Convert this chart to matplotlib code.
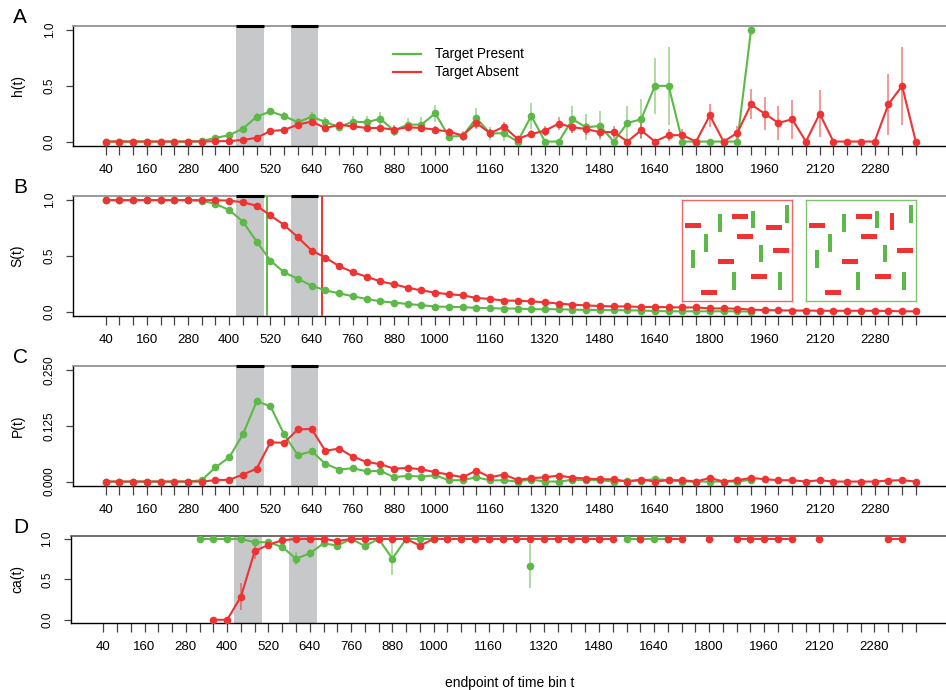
import numpy as np
import matplotlib
matplotlib.use("Agg")
import matplotlib.pyplot as plt
from matplotlib.patches import Rectangle
from matplotlib.lines import Line2D
import matplotlib.transforms as mtransforms

plt.rcParams['font.family'] = ['Liberation Sans', 'DejaVu Sans']

nan = np.nan
t = np.arange(40, 2401, 40)

# ---------------- data ----------------
h_present = [0, 0, 0, 0, 0, 0, 0, 0.005,
             0.033, 0.057, 0.116, 0.223, 0.27, 0.229, 0.173, 0.223, 0.176, 0.131,
             0.179, 0.173, 0.205, 0.098, 0.152, 0.152, 0.253, 0.045, 0.05, 0.211,
             0.074, 0.074, 0.0, 0.229, 0.0, 0.0, 0.2, 0.128, 0.14, 0.0,
             0.167, 0.2, 0.5, 0.5, 0.0, 0.0, 0.0, 0.0, 0.0, 1.0,
             nan, nan, nan, nan, nan, nan, nan, nan, nan, nan, nan, nan]
h_present_se = [0, 0, 0, 0, 0, 0, 0, 0.004,
                0.012, 0.016, 0.022, 0.03, 0.035, 0.036, 0.035, 0.042, 0.042, 0.04,
                0.05, 0.053, 0.06, 0.05, 0.06, 0.065, 0.075, 0.04, 0.045, 0.09,
                0.06, 0.065, 0, 0.12, 0, 0, 0.12, 0.115, 0.13, 0,
                0.15, 0.18, 0.25, 0.35, 0, 0, 0, 0, 0, 0,
                nan, nan, nan, nan, nan, nan, nan, nan, nan, nan, nan, nan]
h_absent = [0, 0, 0, 0, 0, 0, 0, 0,
            0.003, 0.004, 0.015, 0.033, 0.095, 0.104, 0.152, 0.179, 0.122, 0.149,
            0.137, 0.122, 0.122, 0.107, 0.128, 0.122, 0.107, 0.089, 0.054, 0.167,
            0.074, 0.134, 0.024, 0.068, 0.098, 0.161, 0.128, 0.113, 0.083, 0.086,
            0.0, 0.101, 0.0, 0.057, 0.057, 0.0, 0.235, 0.0, 0.077, 0.333,
            0.25, 0.167, 0.2, 0.0, 0.25, 0.0, 0.0, 0.0, 0.0, 0.333, 0.5, 0.0]
h_absent_se = [0, 0, 0, 0, 0, 0, 0, 0,
               0.003, 0.003, 0.006, 0.009, 0.015, 0.016, 0.02, 0.023, 0.021, 0.025,
               0.026, 0.027, 0.029, 0.03, 0.033, 0.034, 0.034, 0.033, 0.028, 0.05,
               0.04, 0.045, 0.025, 0.04, 0.045, 0.055, 0.055, 0.055, 0.05, 0.05,
               0, 0.07, 0, 0.055, 0.055, 0, 0.105, 0, 0.065, 0.135,
               0.15, 0.155, 0.175, 0, 0.21, 0, 0, 0, 0, 0.27, 0.35, 0]

S_present = [1, 1, 1, 1, 1, 1, 1, 0.995,
             0.967, 0.911, 0.807, 0.628, 0.458, 0.351, 0.295, 0.232, 0.19, 0.164,
             0.137, 0.113, 0.092, 0.08, 0.068, 0.057, 0.045, 0.042, 0.04, 0.033,
             0.03, 0.027, 0.027, 0.021, 0.021, 0.021, 0.017, 0.015, 0.013, 0.013,
             0.011, 0.009, 0.005, 0.002, 0.002, 0.002, 0.002, 0.002, 0.002, 0.0,
             nan, nan, nan, nan, nan, nan, nan, nan, nan, nan, nan, nan]
S_absent = [1, 1, 1, 1, 1, 1, 1, 1,
            1, 0.996, 0.981, 0.949, 0.863, 0.777, 0.667, 0.548, 0.485, 0.408,
            0.354, 0.313, 0.271, 0.244, 0.214, 0.19, 0.17, 0.155, 0.146, 0.122,
            0.113, 0.099, 0.097, 0.091, 0.083, 0.071, 0.062, 0.055, 0.05, 0.046,
            0.046, 0.041, 0.041, 0.039, 0.037, 0.037, 0.028, 0.028, 0.026, 0.017,
            0.013, 0.011, 0.009, 0.009, 0.007, 0.007, 0.007, 0.007, 0.007, 0.005, 0.002, 0.002]

P_present = [0, 0, 0, 0, 0, 0, 0, 0.003,
             0.032, 0.054, 0.106, 0.18, 0.169, 0.106, 0.059, 0.068, 0.040, 0.027,
             0.030, 0.023, 0.024, 0.0097, 0.013, 0.011, 0.014, 0.003, 0.003, 0.0097,
             0.0025, 0.003, 0.0, 0.0045, 0.0, 0.0, 0.0037, 0.003, 0.003, 0.0,
             0.002, 0.002, 0.0055, 0.003, 0.0, 0.0, 0.0, 0.0, 0.0, 0.004,
             nan, nan, nan, nan, nan, nan, nan, nan, nan, nan, nan, nan]
P_present_se = [0, 0, 0, 0, 0, 0, 0, 0.001,
                0.004, 0.005, 0.007, 0.008, 0.008, 0.007, 0.005, 0.005, 0.004, 0.003,
                0.003, 0.003, 0.003, 0.002, 0.003, 0.002, 0.003, 0.001, 0.001, 0.002,
                0.001, 0.001, 0, 0.002, 0, 0, 0.002, 0.002, 0.002, 0,
                0.001, 0.001, 0.003, 0.002, 0, 0, 0, 0, 0, 0.002,
                nan, nan, nan, nan, nan, nan, nan, nan, nan, nan, nan, nan]
P_absent = [0, 0, 0, 0, 0, 0, 0, 0,
            0.003, 0.004, 0.0156, 0.029, 0.088, 0.087, 0.117, 0.118, 0.069, 0.074,
            0.056, 0.044, 0.039, 0.029, 0.0305, 0.0275, 0.021, 0.0156, 0.0097, 0.0246,
            0.0097, 0.0156, 0.0037, 0.0074, 0.0097, 0.0134, 0.0089, 0.0067, 0.0052, 0.0052,
            0.0, 0.0045, 0.0, 0.003, 0.003, 0.0, 0.0082, 0.0, 0.003, 0.0082,
            0.0052, 0.003, 0.003, 0.0, 0.003, 0.0, 0.0, 0.0, 0.0, 0.0022, 0.003, 0.0]
P_absent_se = [0, 0, 0, 0, 0, 0, 0, 0,
               0.001, 0.001, 0.003, 0.004, 0.006, 0.006, 0.0065, 0.0065, 0.005, 0.005,
               0.0045, 0.004, 0.004, 0.0035, 0.0035, 0.0035, 0.003, 0.003, 0.0025, 0.004,
               0.0025, 0.003, 0.0015, 0.002, 0.0025, 0.003, 0.0025, 0.002, 0.002, 0.002,
               0, 0.002, 0, 0.0015, 0.0015, 0, 0.003, 0, 0.0015, 0.003,
               0.002, 0.0015, 0.0015, 0, 0.0015, 0, 0, 0, 0, 0.0015, 0.002, 0]

ca_present = [nan, nan, nan, nan, nan, nan, nan, 1.0,
              1.0, 1.0, 1.0, 0.959, 0.959, 0.90, 0.756, 0.82, 0.946, 0.917,
              1.0, 0.913, 1.0, 0.756, 1.0, 1.0, 1.0, 1.0, 1.0, 1.0,
              1.0, 1.0, nan, 0.665, nan, nan, 1.0, 1.0, 1.0, nan,
              1.0, 1.0, 1.0, 1.0, nan, nan, nan, nan, nan, 1.0,
              nan, nan, nan, nan, nan, nan, nan, nan, nan, nan, nan, nan]
ca_present_se = [nan, nan, nan, nan, nan, nan, nan, 0,
                 0, 0, 0, 0.03, 0.03, 0.04, 0.08, 0.06, 0.04, 0.05,
                 0, 0.05, 0, 0.2, 0, 0, 0, 0, 0, 0,
                 0, 0, nan, 0.27, nan, nan, 0, 0, 0, nan,
                 0, 0, 0, 0, nan, nan, nan, nan, nan, 0,
                 nan, nan, nan, nan, nan, nan, nan, nan, nan, nan, nan, nan]
ca_absent = [nan, nan, nan, nan, nan, nan, nan, nan,
             0.0, 0.0, 0.285, 0.847, 0.93, 0.983, 1.0, 1.0, 1.0, 0.975,
             1.0, 1.0, 1.0, 1.0, 1.0, 0.917, 1.0, 1.0, 1.0, 1.0,
             1.0, 1.0, 1.0, 1.0, 1.0, 1.0, 1.0, 1.0, 1.0, 1.0,
             nan, 1.0, nan, 1.0, 1.0, nan, 1.0, nan, 1.0, 1.0,
             1.0, 1.0, 1.0, nan, 1.0, nan, nan, nan, nan, 1.0, 1.0, nan]
ca_absent_se = [nan, nan, nan, nan, nan, nan, nan, nan,
                0, 0, 0.17, 0.095, 0.04, 0.02, 0, 0, 0, 0.03,
                0, 0, 0, 0, 0, 0.04, 0, 0, 0, 0,
                0, 0, 0, 0, 0, 0, 0, 0, 0, 0,
                nan, 0, nan, 0, 0, nan, 0, nan, 0, 0,
                0, 0, 0, nan, 0, nan, nan, nan, nan, 0, 0, nan]

shade_windows = [(420, 500), (580, 660)]
median_rt_present = 511
median_rt_absent = 669

xtick_labels = [40, 160, 280, 400, 520, 640, 760, 880, 1000, 1160, 1320,
                1480, 1640, 1800, 1960, 2120, 2280]
legend_labels = ["Target Present", "Target Absent"]

# inset search display: (x, y) centres in box-local units (box = 330 x 301)
inset_red_bars = [(34, 77), (173, 50), (276, 83), (189, 110), (297, 150),
                  (131, 183), (231, 227), (81, 277)]
inset_green_bars = [(114, 68), (213, 58), (315, 42), (73, 128), (32, 176),
                    (238, 159), (156, 242), (295, 242)]
inset_target = (258, 64)

# ---------------- styles ----------------
GREEN = '#5DB947'
RED = '#EE3333'
SHADE = '#C7C8CA'
W, H = 946, 690

fig = plt.figure(figsize=(9.46, 6.9), dpi=100)


def px_axes(left, top, right, bottom):
    return fig.add_axes([left / W, 1 - bottom / H, (right - left) / W, (bottom - top) / H])


def style_axes(ax, yticks, ylabels, ylim, draw_top_bars=True):
    ax.set_xlim(-55, 2488)
    ax.set_ylim(*ylim)
    for w0, w1 in shade_windows:
        ax.axvspan(w0, w1, color=SHADE, lw=0, zorder=0)
        if draw_top_bars:
            tr = mtransforms.blended_transform_factory(ax.transData, ax.transAxes)
            ax.plot([w0, w1], [1, 1], color='black', lw=2.2, transform=tr,
                    clip_on=False, zorder=5, solid_capstyle='butt')
    ax.spines['right'].set_visible(False)
    ax.spines['top'].set_color('#8a8a8a')
    ax.spines['top'].set_linewidth(1.2)
    ax.spines['left'].set_color('black')
    ax.spines['bottom'].set_color('black')
    ax.spines['left'].set_linewidth(1.0)
    ax.spines['bottom'].set_linewidth(1.0)
    ax.set_xticks(t)
    ax.set_xticklabels([str(v) if v in xtick_labels else '' for v in t])
    ax.tick_params(axis='x', length=6.5, width=0.9, color='#444444', pad=6.5,
                   labelsize=9.5)
    ax.set_yticks(yticks)
    ax.set_yticklabels(ylabels, rotation=90, va='center')
    ax.tick_params(axis='y', length=5, width=0.9, color='#444444', pad=7.5,
                   labelsize=8.5)


def draw_series(ax, y, se, color):
    y = np.asarray(y, float)
    se = np.asarray(se, float)
    m = ~np.isnan(y) & ~np.isnan(se) & (se > 0)
    ax.vlines(t[m], y[m] - se[m], y[m] + se[m], color=color, alpha=0.55, lw=1.3, zorder=2)
    ax.plot(t, y, '-', color=color, lw=1.5, zorder=3)
    ax.plot(t, y, 'o', color=color, ms=5.5, mec='none', zorder=4)


# Panel A
axA = px_axes(73, 25.7, 946, 146)
style_axes(axA, [0, 0.5, 1.0], ['0.0', '0.5', '1.0'], (-0.04, 1.04))
draw_series(axA, h_present, h_present_se, GREEN)
draw_series(axA, h_absent, h_absent_se, RED)
handles = [Line2D([], [], color=GREEN, lw=1.6), Line2D([], [], color=RED, lw=1.6)]
axA.legend(handles, legend_labels, loc='upper left', bbox_to_anchor=(0.366, 0.82),
           frameon=False, fontsize=9.8, handlelength=2.1, handletextpad=1.0,
           labelspacing=0.3, borderpad=0, borderaxespad=0)

# Panel B
axB = px_axes(73, 195.7, 946, 316)
style_axes(axB, [0, 0.5, 1.0], ['0.0', '0.5', '1.0'], (-0.04, 1.04))
axB.axvline(median_rt_present, color=GREEN, lw=1.4, zorder=3)
axB.axvline(median_rt_absent, color=RED, lw=1.4, zorder=3)
draw_series(axB, S_present, np.zeros(len(t)), GREEN)
draw_series(axB, S_absent, np.zeros(len(t)), RED)

# Panel C
axC = px_axes(73, 365.7, 946, 486)
style_axes(axC, [0, 0.125, 0.25], ['0.000', '0.125', '0.250'], (-0.01, 0.26))
draw_series(axC, P_present, P_present_se, GREEN)
draw_series(axC, P_absent, P_absent_se, RED)

# Panel D
axD = px_axes(70.5, 535.7, 946, 623)
style_axes(axD, [0, 0.5, 1.0], ['0.0', '0.5', '1.0'], (-0.04, 1.04), draw_top_bars=False)
axD.spines['top'].set_color('#555555')
draw_series(axD, ca_present, ca_present_se, GREEN)
draw_series(axD, ca_absent, ca_absent_se, RED)


# insets (search displays)
def draw_inset(left, edge, target):
    ax = px_axes(left, 200, left + 110, 301)
    ax.set_xlim(0, 330)
    ax.set_ylim(301, 0)
    ax.set_xticks([])
    ax.set_yticks([])
    for s in ax.spines.values():
        s.set_color(edge)
        s.set_linewidth(1.0)
    ax.patch.set_alpha(0)
    reds = list(inset_red_bars)
    if target:
        reds.remove((276, 83))
    for cx, cy in reds:
        ax.add_patch(Rectangle((cx - 24, cy - 7.5), 48, 15, color=RED, lw=0))
    for cx, cy in inset_green_bars:
        ax.add_patch(Rectangle((cx - 6, cy - 26), 12, 52, color=GREEN, lw=0))
    if target:
        cx, cy = inset_target
        ax.add_patch(Rectangle((cx - 6, cy - 26), 12, 52, color=RED, lw=0))


draw_inset(682, '#EE6666', False)
draw_inset(806, '#80C46C', True)

# labels
for letter, top in zip('ABCD', [25.7, 195.7, 365.7, 535.7]):
    fig.text(13 / W, 1 - (top - 2.5) / H, letter, fontsize=15, ha='left', va='baseline')
for lab, top, bot in zip(['h(t)', 'S(t)', 'P(t)', 'ca(t)'],
                         [25.7, 195.7, 365.7, 535.7], [146, 316, 486, 623]):
    fig.text(17.5 / W, 1 - (top + bot) / 2 / H, lab, fontsize=10, rotation=90,
             ha='center', va='center')
fig.text(509.5 / W, 1 - 683 / H, 'endpoint of time bin t', fontsize=10,
         ha='center', va='center')

fig.savefig('out.png', dpi=100)
